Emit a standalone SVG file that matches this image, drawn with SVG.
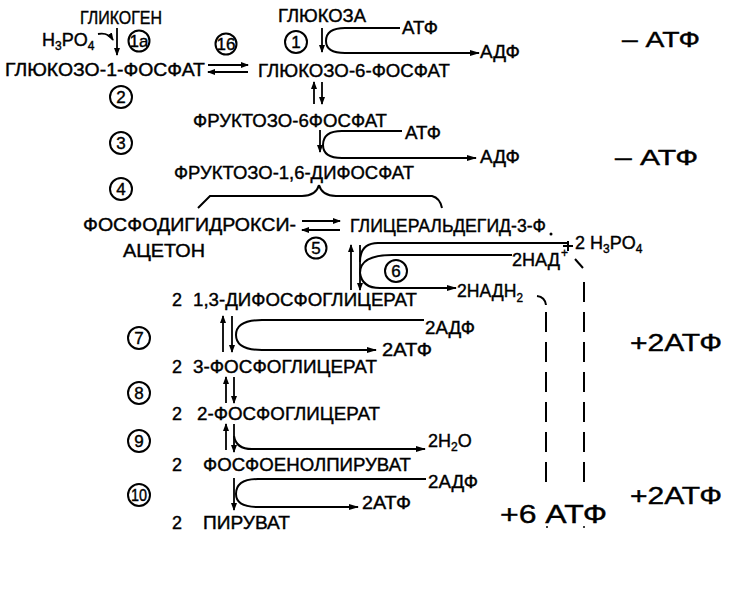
<svg xmlns="http://www.w3.org/2000/svg" width="744" height="609" viewBox="0 0 744 609">
<defs>
<marker id="ah" viewBox="0 0 10 6" refX="9" refY="3" markerWidth="10" markerHeight="6" markerUnits="userSpaceOnUse" orient="auto">
<path d="M0,0 L10,3 L0,6 z" fill="#000"/>
</marker>
<marker id="ahs" viewBox="0 0 8 6" refX="7" refY="3" markerWidth="8" markerHeight="6" markerUnits="userSpaceOnUse" orient="auto">
<path d="M0,0 L8,3 L0,6 z" fill="#000"/>
</marker>
</defs>
<style>
text{font-family:"Liberation Sans",Arial,sans-serif;fill:#000;stroke:#000;stroke-width:0.4}
.t{font-size:18px}
.n{font-size:17px;text-anchor:middle}
.c{fill:none;stroke:#000;stroke-width:2}
.l{fill:none;stroke:#000;stroke-width:2}
.a{fill:none;stroke:#000;stroke-width:2;marker-end:url(#ah)}
.as{fill:none;stroke:#000;stroke-width:1.8;marker-end:url(#ahs)}
.d{fill:none;stroke:#000;stroke-width:2;stroke-dasharray:20,10}
</style>
<rect width="744" height="609" fill="#fff"/>

<g id="glycogen"><text class="t" x="80" y="24" textLength="82" lengthAdjust="spacingAndGlyphs">ГЛИКОГЕН</text></g>
<g id="h3po4-1"><text x="42" y="46" font-size="18">H<tspan font-size="12" dy="4">3</tspan><tspan dy="-4">PO</tspan><tspan font-size="12" dy="4">4</tspan></text></g>
<g id="g1p"><text class="t" x="5" y="76" textLength="200" lengthAdjust="spacingAndGlyphs">ГЛЮКОЗО-1-ФОСФАТ</text></g>
<g id="glucose"><text class="t" x="278" y="22" textLength="88" lengthAdjust="spacingAndGlyphs">ГЛЮКОЗА</text></g>
<g id="g6p"><text class="t" x="258" y="77" textLength="192" lengthAdjust="spacingAndGlyphs">ГЛЮКОЗО-6-ФОСФАТ</text></g>
<g id="atp1"><text class="t" x="402" y="34" textLength="36" lengthAdjust="spacingAndGlyphs">АТФ</text></g>
<g id="adp1"><text class="t" x="480" y="58" textLength="40" lengthAdjust="spacingAndGlyphs">АДФ</text></g>
<g id="f6p"><text class="t" x="193" y="127" textLength="194" lengthAdjust="spacingAndGlyphs">ФРУКТОЗО-6ФОСФАТ</text></g>
<g id="atp2"><text class="t" x="405" y="139" textLength="36" lengthAdjust="spacingAndGlyphs">АТФ</text></g>
<g id="adp2"><text class="t" x="480" y="163" textLength="40" lengthAdjust="spacingAndGlyphs">АДФ</text></g>
<g id="f16p"><text class="t" x="174" y="179" textLength="240" lengthAdjust="spacingAndGlyphs">ФРУКТОЗО-1,6-ДИФОСФАТ</text></g>
<g id="dhap"><text class="t" x="83" y="231" textLength="213" lengthAdjust="spacingAndGlyphs">ФОСФОДИГИДРОКСИ-</text><text class="t" x="123" y="257" textLength="82" lengthAdjust="spacingAndGlyphs">АЦЕТОН</text></g>
<g id="g3p"><text class="t" x="350" y="232" textLength="196" lengthAdjust="spacingAndGlyphs">ГЛИЦЕРАЛЬДЕГИД-3-Ф</text><circle cx="551" cy="234" r="1.5" fill="#000"/></g>
<g id="h3po4-2"><text x="575" y="249" font-size="18">2 H<tspan font-size="12" dy="4">3</tspan><tspan dy="-4">PO</tspan><tspan font-size="12" dy="4">4</tspan></text></g>
<g id="nad"><text class="t" x="512" y="266" textLength="48" lengthAdjust="spacingAndGlyphs">2НАД</text><text x="561" y="257" font-size="12">+</text></g>
<g id="nadh"><text class="t" x="457" y="297" textLength="66" lengthAdjust="spacingAndGlyphs">2НАДН<tspan font-size="12" dy="5">2</tspan></text></g>
<g id="bpg"><text class="t" x="172" y="306">2</text><text class="t" x="193" y="306" textLength="224" lengthAdjust="spacingAndGlyphs">1,3-ДИФОСФОГЛИЦЕРАТ</text></g>
<g id="adp3"><text class="t" x="425" y="334" textLength="50" lengthAdjust="spacingAndGlyphs">2АДФ</text></g>
<g id="atp3"><text class="t" x="382" y="356" textLength="50" lengthAdjust="spacingAndGlyphs">2АТФ</text></g>
<g id="pg3"><text class="t" x="172" y="373">2</text><text class="t" x="193" y="373" textLength="184" lengthAdjust="spacingAndGlyphs">3-ФОСФОГЛИЦЕРАТ</text></g>
<g id="pg2"><text class="t" x="172" y="420">2</text><text class="t" x="197" y="420" textLength="183" lengthAdjust="spacingAndGlyphs">2-ФОСФОГЛИЦЕРАТ</text></g>
<g id="h2o"><text x="428" y="447" font-size="18">2H<tspan font-size="12" dy="4">2</tspan><tspan dy="-4">O</tspan></text></g>
<g id="pep"><text class="t" x="172" y="471">2</text><text class="t" x="203" y="471" textLength="208" lengthAdjust="spacingAndGlyphs">ФОСФОЕНОЛПИРУВАТ</text></g>
<g id="adp4"><text class="t" x="428" y="488" textLength="50" lengthAdjust="spacingAndGlyphs">2АДФ</text></g>
<g id="atp4"><text class="t" x="362" y="509" textLength="49" lengthAdjust="spacingAndGlyphs">2АТФ</text></g>
<g id="pyruvate"><text class="t" x="172" y="529">2</text><text class="t" x="203" y="529" textLength="87" lengthAdjust="spacingAndGlyphs">ПИРУВАТ</text></g>

<g id="sum-minus1"><text x="622" y="47" font-size="22" textLength="78" lengthAdjust="spacingAndGlyphs">– АТФ</text></g>
<g id="sum-minus2"><text x="615" y="165" font-size="22" textLength="83" lengthAdjust="spacingAndGlyphs">– АТФ</text></g>
<g id="sum-plus1"><text x="630" y="351" font-size="24" textLength="92" lengthAdjust="spacingAndGlyphs">+2АТФ</text></g>
<g id="sum-plus2"><text x="630" y="504" font-size="24" textLength="92" lengthAdjust="spacingAndGlyphs">+2АТФ</text></g>
<g id="sum-plus6"><text x="500" y="523" font-size="26" textLength="107" lengthAdjust="spacingAndGlyphs">+6 АТФ</text></g>

<g id="enzymes">
<circle class="c" cx="139" cy="41" r="10.5"/><text class="n" x="139" y="47">1а</text>
<circle class="c" cx="226" cy="44" r="10.5"/><text class="n" x="226" y="50">16</text>
<circle class="c" cx="296" cy="42" r="11"/><text class="n" x="296" y="48">1</text>
<circle class="c" cx="121" cy="97" r="11"/><text class="n" x="121" y="103">2</text>
<circle class="c" cx="121" cy="143" r="11"/><text class="n" x="121" y="149">3</text>
<circle class="c" cx="121" cy="189" r="11"/><text class="n" x="121" y="195">4</text>
<circle class="c" cx="316" cy="248" r="10.5"/><text class="n" x="316" y="254">5</text>
<circle class="c" cx="396" cy="271" r="11"/><text class="n" x="396" y="277">6</text>
<circle class="c" cx="139" cy="338" r="11"/><text class="n" x="139" y="344">7</text>
<circle class="c" cx="139" cy="393" r="11"/><text class="n" x="139" y="399">8</text>
<circle class="c" cx="139" cy="441" r="11"/><text class="n" x="139" y="447">9</text>
<circle class="c" cx="139" cy="495" r="11"/><text class="n" x="139" y="501" textLength="16" lengthAdjust="spacingAndGlyphs">10</text>
</g>

<g id="connectors">
<path class="as" d="M117,28 V55"/>
<path class="as" d="M98,34 Q108,32 113,40"/>
<path class="as" d="M208,65 H248"/>
<path class="as" d="M248,72 H208"/>
<path class="as" d="M322,28 V52"/>
<path class="l" d="M400,28 H345 Q326,28 326,41 Q326,53 345,53 H470"/>
<path class="a" d="M460,53 H479"/>
<path class="as" d="M314,104 V82"/>
<path class="as" d="M322,82 V104"/>
<path class="as" d="M320,130 V152"/>
<path class="l" d="M402,131 H342 Q323,131 323,145 Q323,158 342,158 H465"/>
<path class="a" d="M455,158 H476"/>
<path class="l" d="M319,185 Q316,196 302,196 H210 L198,208"/>
<path class="l" d="M319,185 Q322,196 336,196 H432 Q440,198 442,208"/>
<path class="as" d="M302,221 H340"/>
<path class="as" d="M340,230 H302"/>
<path class="as" d="M351,290 V245"/>
<path class="as" d="M360,245 V290"/>
<path class="l" d="M568,243 H378 Q360,243 360,262"/>
<path class="l" d="M512,255 H392 Q360,255 360,273 Q362,288 380,288 H440"/>
<path class="a" d="M430,288 H456"/>
<path class="l" d="M563,246 H573 M568,241 V251"/>
<path class="l" d="M575,259 L583,268"/>
<path class="l" d="M537,296 Q545,297 546,305"/>
<path class="d" d="M546,312 V488"/>
<path class="d" d="M584,282 V488"/>
<circle cx="547" cy="527" r="1" fill="#000"/>
<circle cx="584" cy="527" r="1" fill="#000"/>
<path class="as" d="M223,352 V316"/>
<path class="as" d="M232,316 V352"/>
<path class="l" d="M424,320 H262 Q236,320 236,335 Q236,350 262,350 H360"/>
<path class="a" d="M350,350 H376"/>
<path class="as" d="M226,403 V377"/>
<path class="as" d="M234,377 V403"/>
<path class="as" d="M226,450 V424"/>
<path class="as" d="M234,424 V452"/>
<path class="l" d="M234,436 Q236,449 252,449 H410"/>
<path class="a" d="M400,449 H425"/>
<path class="as" d="M234,478 V510"/>
<path class="l" d="M426,479 H258 Q236,479 236,494 Q236,507 258,507 H340"/>
<path class="a" d="M332,507 H358"/>
</g>
</svg>
